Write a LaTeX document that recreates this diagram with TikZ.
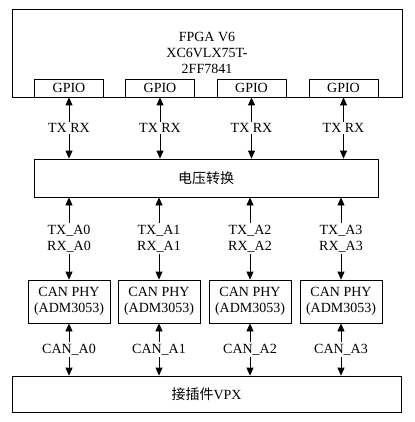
\documentclass[tikz,border=0pt]{standalone}
\usepackage{fontspec}
\setmainfont{Liberation Serif}
\newfontfamily\cjk{Noto Sans CJK SC}
\usetikzlibrary{arrows.meta}
\tikzset{blk/.style={draw, inner sep=0pt, align=center},
	lbl/.style={fill=white, inner sep=1.5pt, align=center}}

\begin{document}
\begin{tikzpicture}[x=1pt, y=-1pt, font=\fontsize{14}{16}\selectfont, line width=.8pt, >={Triangle[length=8pt,width=7pt]}]
	\useasboundingbox (0,0) rectangle (414,422);
	\node[blk, minimum width=390pt, minimum height=88pt] (fpga) at (207,53) {FPGA V6\\XC6VLX75T-\\2FF7841};
	\foreach \n/\x in {0/69,1/160,2/251.5,3/343.5}
	  \node[blk, fill=white, minimum width=69pt, minimum height=18pt] (gpio\n) at (\x,88) {GPIO};
	\node[blk, minimum width=344pt, minimum height=38pt] (volt) at (206,178) {\cjk 电压转换};
	\foreach \n/\x in {0/69,1/159,2/250,3/341}
	  \node[blk, minimum width=82pt, minimum height=43pt] (can\n) at (\x,301.5) {CAN PHY\\(ADM3053)};
	\node[blk, minimum width=389pt, minimum height=36pt] (vpx) at (206.5,394) {{\cjk 接插件}VPX};
	\foreach \n in {0,...,3} {
	  \draw[<->] (gpio\n.south) -- node[lbl] {TX RX} (volt.north -| gpio\n.south);
	  \draw[<->] (volt.south -| can\n.north) -- node[lbl] {TX\_A\n\\RX\_A\n} (can\n.north);
	  \draw[<->] (can\n.south) -- node[lbl] {CAN\_A\n} (vpx.north -| can\n.south);
	}
\end{tikzpicture}
\end{document}
